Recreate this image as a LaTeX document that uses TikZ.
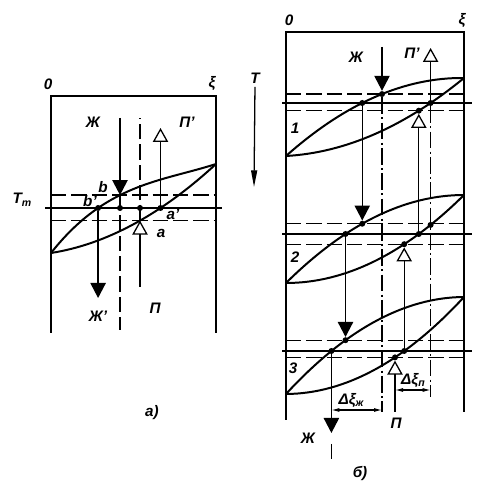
\documentclass[tikz,border=0pt]{standalone}
\usepackage{fontspec}
\setmainfont{Liberation Sans}
\usetikzlibrary{arrows.meta}

\tikzset{
  frame/.style={line width=1.4pt},
  curve/.style={line width=1.7pt},
  flow/.style={line width=1.1pt},
  level/.style={line width=1.1pt, dash pattern=on 4.6mm off 1.5mm},
  refline/.style={line width=1pt, dash pattern=on 5mm off 1mm on 0.6mm off 1mm},
  liq/.style={-{Triangle[length=4.5mm,width=4.6mm]}},
  vap/.style={-{Triangle[open,length=4.2mm,width=4.6mm,line width=1.1pt]}},
  dim/.style={line width=0.9pt, {Latex[length=2.4mm,width=1.2mm]}-{Latex[length=2.4mm,width=1.2mm]}},
  dot/.style={circle, fill, inner sep=0pt, minimum size=1.8mm},
  lbl/.style={font=\bfseries\itshape\fontsize{13}{15}\selectfont, inner sep=1pt}
}
\newcommand{\lowsub}[1]{\raisebox{-0.35ex}{\fontsize{9}{10}\selectfont #1}}

\begin{document}
\begin{tikzpicture}[x=0.03cm, y=-0.03cm]
  \useasboundingbox (0,0) rectangle (500,488);

  % a)
  \draw[frame] (51,333) -- (51,96) -- (216,96) -- (216,333);
  \node[lbl] (a0) at (48,84) {0};
  \node[lbl] (axi) at (212,83) {ξ};
  \draw[curve] (51,253) .. controls (106,183.33) and (161,181.67) .. (216,164);
  \draw[curve] (51,253) .. controls (106,244.33) and (161,214.67) .. (216,164);
  \draw[level] (51,195.1) -- (216,195.1);
  \draw[flow] (45,208) -- (222,208);
  \draw[level] (51,220.6) -- (216,220.6);

  \coordinate (ztop) at (120,118);
  \coordinate (zb) at (120,195.1);
  \coordinate (zbot) at (120,330);
  \coordinate (ptop) at (140,118);
  \coordinate (pa) at (140,220.6);
  \coordinate (pbot) at (140,287);
  \coordinate (zout) at (98.1,298);
  \coordinate (pout) at (160.5,128);
  \node[dot] (bb) at (98.1,208) {};
  \node[dot] (m1) at (120,208) {};
  \node[dot] (m2) at (140,208) {};
  \node[dot] (aa) at (160.5,208) {};

  \draw[flow,liq] (ztop) -- (zb);
  \draw[level] (zb) -- (zbot);
  \draw[flow,vap] (pbot) -- (pa);
  \draw[level] (pa) -- (ptop);
  \draw[flow,liq] (bb) -- (zout);
  \draw[flow,vap] (aa) -- (pout);

  \node[lbl] (aZ) at (93,122) {Ж};
  \node[lbl] (aP1) at (187,122) {П'};
  \node[lbl] (aTm) at (22,200) {T\lowsub{m}};
  \node[lbl] (ab) at (103,187) {b};
  \node[lbl] (ab1) at (90,201) {b'};
  \node[lbl] (aa1) at (173,214) {a'};
  \node[lbl] (aa0) at (161,233) {a};
  \node[lbl] (aZ1) at (98,316) {Ж'};
  \node[lbl] (aP) at (155,308) {П};
  \node[lbl] (acap) at (152,413) {а)};

  % б)
  \draw[frame] (286,420) -- (286,32) -- (464,32) -- (464,412);
  \node[lbl] (b0) at (289,20) {0};
  \node[lbl] (bxi) at (462,20) {ξ};
  \node[lbl] (T) at (255,78) {T};
  \coordinate (Tend) at (254,187);
  \draw[flow, -{Triangle[length=5mm,width=1.8mm]}, shorten <=2pt] (T.south) -- (Tend);

  \foreach \n/\yl/\yr/\hu/\hl/\ya/\yb/\yc in {%
    1/156/78/20/17/94.05/103/110.69,
    2/283/195/22/22/223.75/234/244.19,
    3/394/297/24/24/340.2/351/357.39%
  } {
    \draw[curve] (286,\yl) .. controls (345.33,{\yl+(\yr-\yl)/3-4*\hu/3})
      and (404.67,{\yl+2*(\yr-\yl)/3-4*\hu/3}) .. (464,\yr);
    \draw[curve] (286,\yl) .. controls (345.33,{\yl+(\yr-\yl)/3+4*\hl/3})
      and (404.67,{\yl+2*(\yr-\yl)/3+4*\hl/3}) .. (464,\yr);
    \draw[level] (286,\ya) -- (468,\ya);
    \draw[flow] (282,\yb) -- (472,\yb);
    \draw[level] (286,\yc) -- (468,\yc);
  }
  \node[lbl] (n1) at (295,128) {1};
  \node[lbl] (n2) at (295,257) {2};
  \node[lbl] (n3) at (293,368) {3};

  % liquid in (J), liquid out (L), vapour in (P), vapour out (V)
  \node[dot] (J1) at (382,94.05) {};
  \node[dot] (J2) at (362.25,223.75) {};
  \node[dot] (J3) at (345.5,340.2) {};
  \node[dot] (L1) at (362.25,103) {};
  \node[dot] (L2) at (345.5,234) {};
  \node[dot] (L3) at (331.4,351) {};
  \node[dot] (P1) at (418.8,110.69) {};
  \node[dot] (P2) at (404.2,244.19) {};
  \node[dot] (P3) at (395,357.39) {};
  \node[dot] (V1) at (430.6,103) {};
  \node[dot] (V2) at (418.8,234) {};
  \node[dot] (V3) at (404.2,351) {};
  \node[dot] (X2) at (430.6,224.92) {};

  \coordinate (Jtop) at (382,47);
  \coordinate (Jref) at (382,412);
  \coordinate (Jout) at (331.4,433);
  \coordinate (Ja) at (331.4,444);
  \coordinate (Jb) at (331.4,460);
  \coordinate (Pbot) at (395,412);
  \coordinate (Ptop) at (430.6,48);
  \coordinate (Pref) at (430.6,397);

  \draw[flow,liq] (Jtop) -- (J1);
  \draw[flow,liq] (L1) -- (J2);
  \draw[flow,liq] (L2) -- (J3);
  \draw[flow,liq] (L3) -- (Jout);
  \draw[level] (Ja) -- (Jb);
  \draw[flow,vap] (Pbot) -- (P3);
  \draw[flow,vap] (V3) -- (P2);
  \draw[flow,vap] (V2) -- (P1);
  \draw[flow,vap] (V1) -- (Ptop);
  \draw[refline] (J1) -- (Jref);
  \draw[refline] (V1) -- (Pref);

  % shifts
  \coordinate (dz1) at (331.4,410);
  \coordinate (dz2) at (382,410);
  \coordinate (dp1) at (395,390);
  \coordinate (dp2) at (430.6,390);
  \draw[dim] (dz1) -- (dz2);
  \draw[dim] (dp1) -- (dp2);
  \node[lbl] (dzl) at (351,400) {Δξ\lowsub{ж}};
  \node[lbl] (dpl) at (413,380) {Δξ\lowsub{п}};

  \node[lbl] (bZ) at (356,57) {Ж};
  \node[lbl] (bP1) at (412,53) {П'};
  \node[lbl] (bZo) at (308,438) {Ж};
  \node[lbl] (bPo) at (396,423) {П};
  \node[lbl] (bcap) at (360,473) {б)};
\end{tikzpicture}
\end{document}
